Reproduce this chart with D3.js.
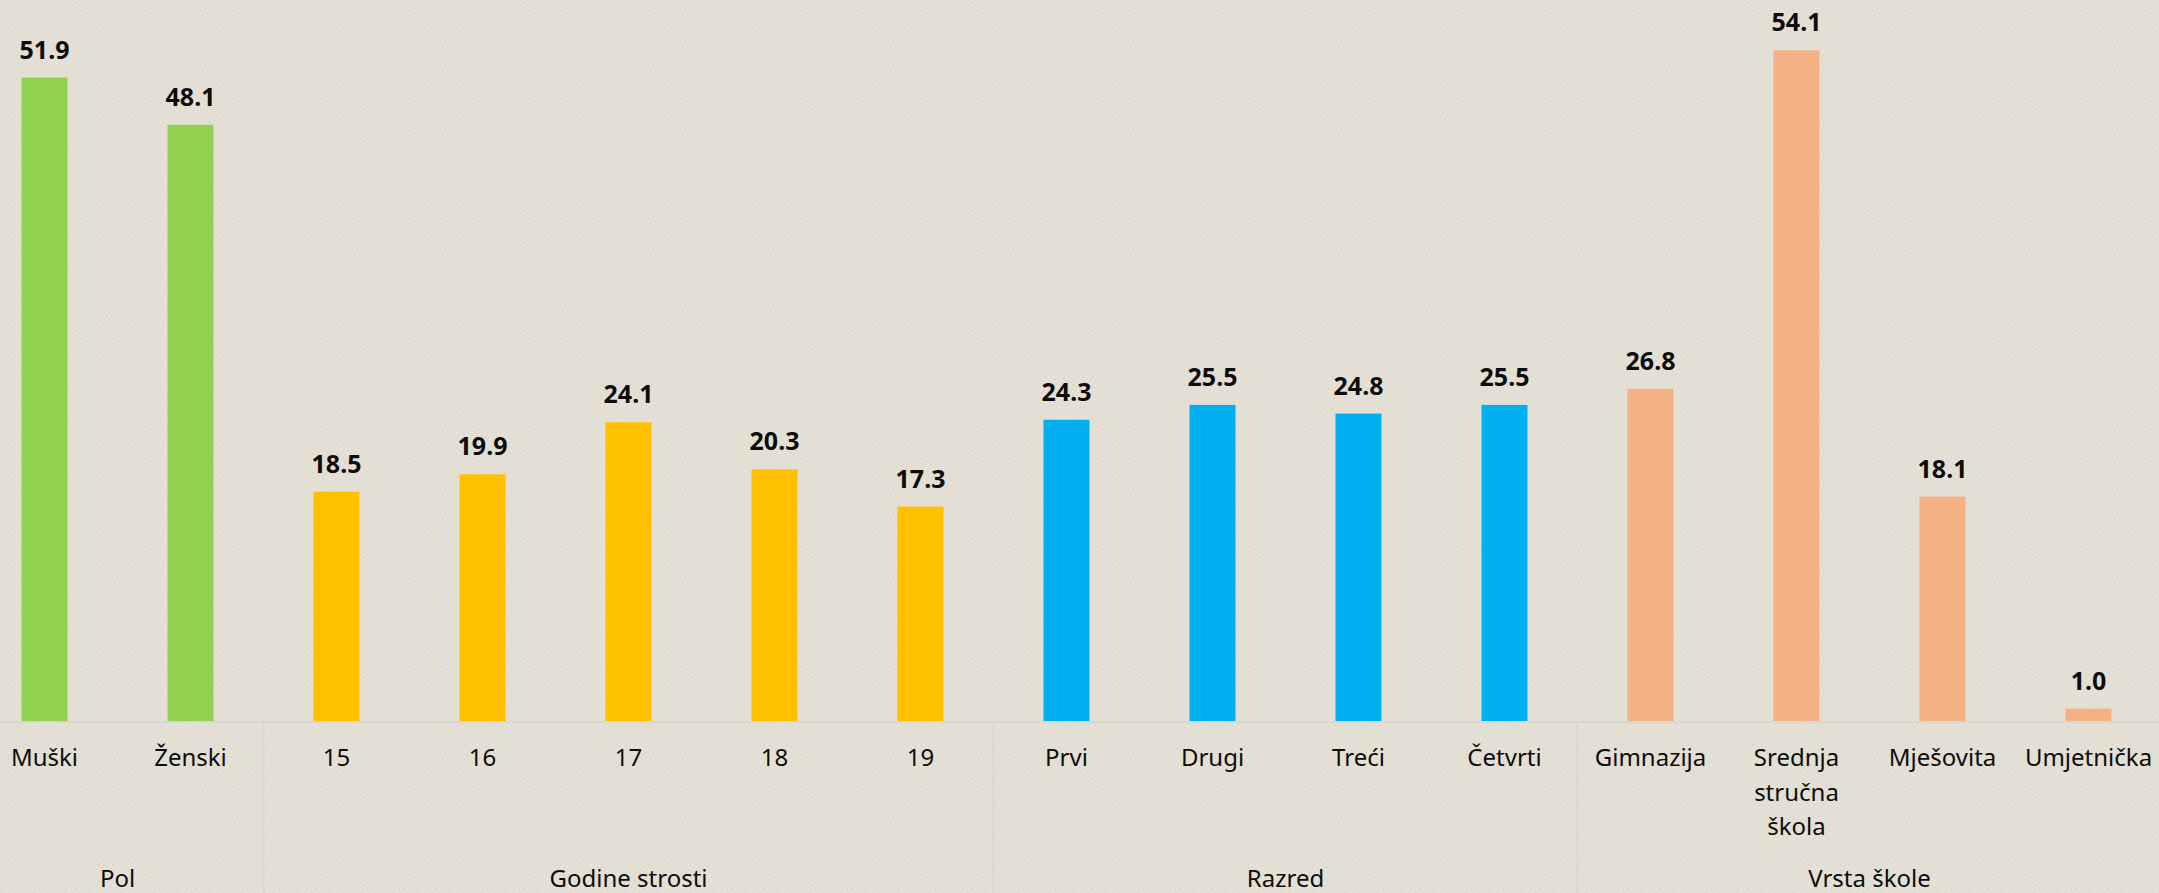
<!DOCTYPE html>
<html>
<head>
<meta charset="utf-8">
<script src="https://cdn.jsdelivr.net/npm/d3@7"></script>
<style>
  html, body { margin: 0; padding: 0; background: #e3dfd4; overflow: hidden; }
  text { font-family: "Noto Sans", "Open Sans", sans-serif; fill: #0d0d0d; }
</style>
</head>
<body>
<script>
// categories and values (%)
var categories = ["Muški", "Ženski", "15", "16", "17", "18", "19", "Prvi", "Drugi", "Treći", "Četvrti",
                  "Gimnazija", "Srednja stručna škola", "Mješovita", "Umjetnička"];
var values = [51.9, 48.1, 18.5, 19.9, 24.1, 20.3, 17.3, 24.3, 25.5, 24.8, 25.5, 26.8, 54.1, 18.1, 1.0];
var groupOf = ["Pol", "Pol", "Godine strosti", "Godine strosti", "Godine strosti", "Godine strosti", "Godine strosti",
               "Razred", "Razred", "Razred", "Razred", "Vrsta škole", "Vrsta škole", "Vrsta škole", "Vrsta škole"];
var groups = ["Pol", "Godine strosti", "Razred", "Vrsta škole"];
var groupColors = ["#92d050", "#ffc000", "#00b0f0", "#f4b183"];

var svgWidth = 2159;
var svgHeight = 893;
var baseY = 721;

var svg = d3.select("body")
  .append("svg")
  .attr("width", svgWidth)
  .attr("height", svgHeight);

// textured background
var defs = svg.append("defs");
var pat = defs.append("pattern")
  .attr("id", "cloth")
  .attr("width", 4)
  .attr("height", 4)
  .attr("patternUnits", "userSpaceOnUse")
  .attr("patternTransform", "rotate(30)");
pat.append("rect").attr("width", 4).attr("height", 4).attr("fill", "#e3dfd4");
pat.append("rect").attr("width", 4).attr("height", 1).attr("fill", "#d8d3c7").attr("opacity", 0.6);
pat.append("rect").attr("width", 1).attr("height", 4).attr("fill", "#ece9e0").attr("opacity", 0.6);

svg.append("rect")
  .attr("width", svgWidth)
  .attr("height", svgHeight)
  .attr("fill", "url(#cloth)");

var data = categories.map(function(c, i) {
  return { cat: c, value: values[i], group: groupOf[i] };
});

// scales
var x = d3.scaleBand()
  .domain(categories)
  .range([-28.5, 2161.5])
  .paddingInner(0.685)
  .paddingOuter(0.3425);

var y = d3.scaleLinear()
  .domain([0, 58])
  .range([baseY, 2]);

var color = d3.scaleOrdinal().domain(groups).range(groupColors);

// bars
svg.selectAll("rect.bar")
  .data(data)
  .enter()
  .append("rect")
  .attr("class", "bar")
  .attr("x", d => x(d.cat))
  .attr("y", d => y(d.value))
  .attr("width", x.bandwidth())
  .attr("height", d => baseY - y(d.value))
  .attr("fill", d => color(d.group));

// value labels
svg.selectAll("text.val")
  .data(data)
  .enter()
  .append("text")
  .attr("class", "val")
  .attr("x", d => x(d.cat) + x.bandwidth() / 2)
  .attr("y", d => y(d.value) - 19)
  .attr("text-anchor", "middle")
  .attr("font-size", 25)
  .attr("font-weight", "bold")
  .text(d => d.value.toFixed(1));

// baseline
svg.append("line")
  .attr("x1", 0)
  .attr("x2", svgWidth)
  .attr("y1", baseY + 1)
  .attr("y2", baseY + 1)
  .attr("stroke", "#d8d7d2")
  .attr("stroke-width", 2);

// group separators
var step = x.step();
groups.forEach(function(g, gi) {
  var first = data.find(d => d.group === g);
  var sx = x(first.cat) + x.bandwidth() / 2 - step / 2;
  if (gi > 0) {
    svg.append("line")
      .attr("x1", sx).attr("x2", sx)
      .attr("y1", baseY).attr("y2", svgHeight)
      .attr("stroke", "#d8d7d2")
      .attr("stroke-width", 2);
  }
});

// category labels (wrapped)
var catLabels = svg.selectAll("text.cat")
  .data(data)
  .enter()
  .append("text")
  .attr("class", "cat")
  .attr("text-anchor", "middle")
  .attr("font-size", 24)
  .attr("y", 766);

catLabels.each(function(d) {
  var words = d.cat.split(" ");
  var cx = x(d.cat) + x.bandwidth() / 2;
  var t = d3.select(this);
  words.forEach(function(w, i) {
    t.append("tspan")
      .attr("x", cx)
      .attr("dy", i === 0 ? 0 : 34.5)
      .text(w);
  });
});

// group labels
groups.forEach(function(g) {
  var members = data.filter(d => d.group === g);
  var left = x(members[0].cat) + x.bandwidth() / 2 - step / 2;
  var right = x(members[members.length - 1].cat) + x.bandwidth() / 2 + step / 2;
  svg.append("text")
    .attr("class", "grp")
    .attr("x", (left + right) / 2)
    .attr("y", 887)
    .attr("text-anchor", "middle")
    .attr("font-size", 24)
    .text(g);
});
</script>
</body>
</html>
